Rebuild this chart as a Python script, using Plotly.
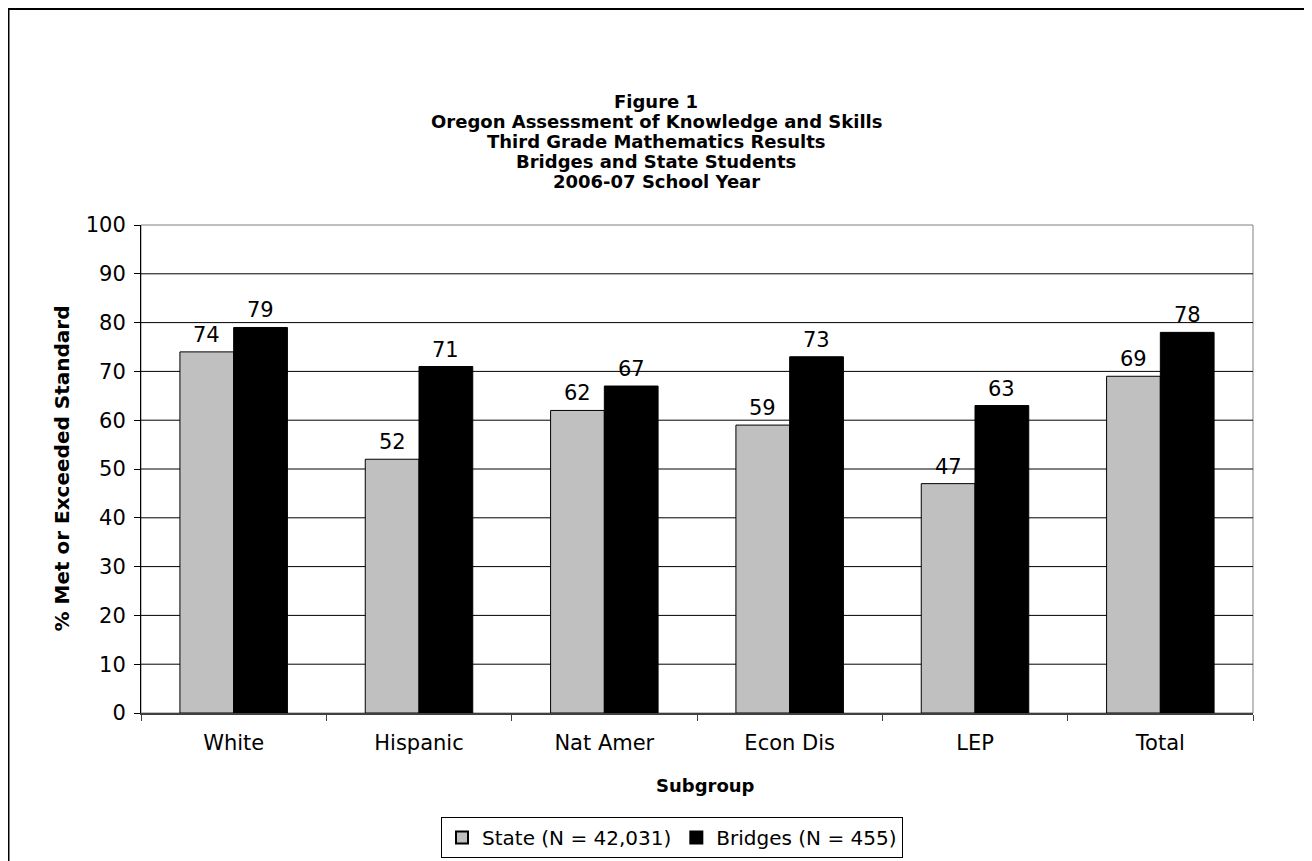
import plotly.graph_objects as go

# ---- data ----
categories = ["White", "Hispanic", "Nat Amer", "Econ Dis", "LEP", "Total"]
state_values = [74, 52, 62, 59, 47, 69]
bridges_values = [79, 71, 67, 73, 63, 78]
state_name = "State (N = 42,031)"
bridges_name = "Bridges (N = 455)"
title_lines = [
    "Figure 1",
    "Oregon Assessment of Knowledge and Skills",
    "Third Grade Mathematics Results",
    "Bridges and State Students",
    "2006-07 School Year",
]
y_title = "% Met or Exceeded Standard"
x_title = "Subgroup"
y_ticks = list(range(0, 101, 10))

# ---- layout geometry (pixels) ----
W, H = 1312, 861
OFF = 8  # page body margin
L, T = 141 - OFF, 225 - OFF
R = W - (1253 - OFF)
B = H - (714 - OFF)
PW, PH = W - L - R, H - T - B
BARGAP = 0.42

def px(xp):
    return (xp - OFF - L) / PW

def py(yp):
    return (H - B - (yp - OFF)) / PH

FONT = "DejaVu Sans, Verdana, sans-serif"
NSIZE = 21

fig = go.Figure()
fig.add_trace(go.Bar(x=categories, y=state_values, name=state_name,
                     marker=dict(color="#C0C0C0", line=dict(color="#000000", width=1))))
fig.add_trace(go.Bar(x=categories, y=bridges_values, name=bridges_name,
                     marker=dict(color="#000000", line=dict(color="#000000", width=1))))

annotations = []
half = (1 - BARGAP) / 4
for i, (s, b) in enumerate(zip(state_values, bridges_values)):
    for off, v in ((-half, s), (half, b)):
        annotations.append(dict(x=i + off, y=v, xref="x", yref="y", text=str(v),
                                showarrow=False, yanchor="bottom", yshift=3,
                                font=dict(family=FONT, size=NSIZE, color="#000000")))

title_y = [101, 121, 141, 161, 181]
for line, yy in zip(title_lines, title_y):
    annotations.append(dict(x=px(656), y=py(yy), xref="paper", yref="paper", text="<b>%s</b>" % line,
                            showarrow=False, xanchor="center", yanchor="middle",
                            font=dict(family=FONT, size=18, color="#000000")))

annotations.append(dict(x=px(705), y=py(787), xref="paper", yref="paper", text="<b>%s</b>" % x_title,
                        showarrow=False, xanchor="center", yanchor="middle",
                        font=dict(family=FONT, size=18, color="#000000")))
annotations.append(dict(x=px(62), y=py(469), xref="paper", yref="paper", text="<b>%s</b>" % y_title,
                        showarrow=False, xanchor="center", yanchor="middle", textangle=-90,
                        font=dict(family=FONT, size=20, color="#000000")))

shapes = [
    dict(type="rect", xref="paper", yref="paper", x0=0, x1=1, y0=0, y1=1,
         line=dict(color="#808080", width=1), layer="below"),
    dict(type="rect", xref="paper", yref="paper", x0=px(OFF), x1=px(OFF + W), y0=py(OFF + H), y1=py(OFF),
         line=dict(color="#000000", width=3)),
]
for t in y_ticks[1:-1]:
    shapes.append(dict(type="line", xref="paper", yref="y", x0=0, x1=1, y0=t, y1=t,
                       line=dict(color="#000000", width=1), layer="below"))

fig.update_layout(
    width=W, height=H,
    margin=dict(l=L, r=R, t=T, b=B),
    paper_bgcolor="#FFFFFF", plot_bgcolor="#FFFFFF",
    barmode="group", bargap=BARGAP, bargroupgap=0,
    font=dict(family=FONT, size=NSIZE, color="#000000"),
    showlegend=True,
    legend=dict(orientation="h", x=px(672), xanchor="center", y=py(817), yanchor="top",
                bordercolor="#000000", borderwidth=1, bgcolor="#FFFFFF",
                font=dict(family=FONT, size=20, color="#000000"),
                itemsizing="constant", traceorder="normal"),
    xaxis=dict(type="category", showline=True, linecolor="#404040", linewidth=2,
               ticks="outside", tickson="boundaries", ticklen=6, tickcolor="#404040",
               showgrid=False, ticklabelstandoff=10,
               tickfont=dict(family=FONT, size=NSIZE, color="#000000")),
    yaxis=dict(range=[0, 100], tickvals=y_ticks, showline=True, linecolor="#000000", linewidth=1,
               ticks="outside", ticklen=6, tickcolor="#000000",
               showgrid=False, zeroline=False,
               ticklabelstandoff=4,
               tickfont=dict(family=FONT, size=NSIZE, color="#000000")),
    annotations=annotations,
    shapes=shapes,
)

fig.write_html("out.html")
